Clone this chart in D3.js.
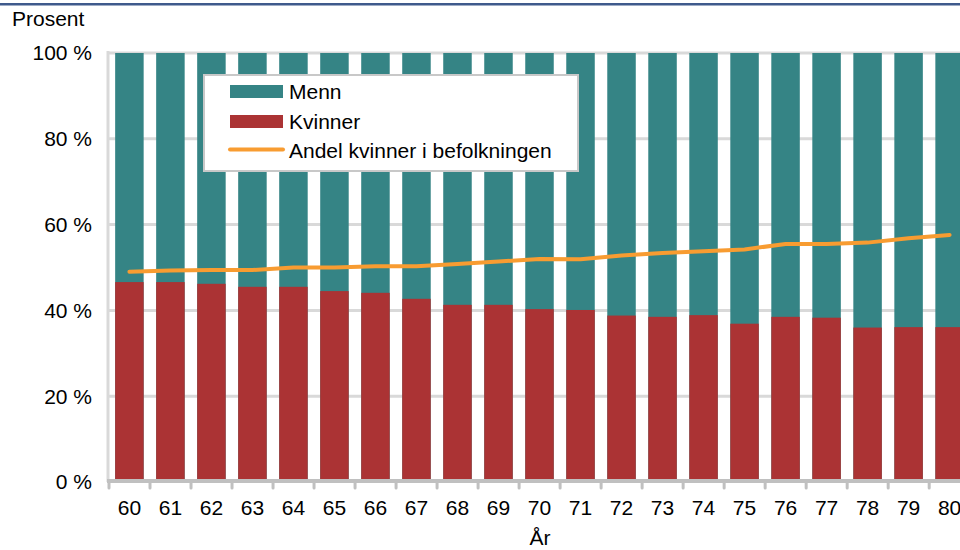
<html>
  <head>
    <style>
      body { margin: 0; background: #fff; }
      svg text { font-family: "Liberation Sans", Arial, sans-serif; fill: #000; }
    </style>
  </head>
  <body>
    <div id="chart"></div>
    <script src="https://d3js.org/d3.v7.min.js"></script>
    <script>
      // years (x categories)
      const years = ["60","61","62","63","64","65","66","67","68","69","70",
                     "71","72","73","74","75","76","77","78","79","80"];
      // share of women (%) - red part, men is the rest up to 100
      const kvinner = [46.6,46.6,46.2,45.5,45.5,44.5,44.1,42.7,41.3,41.3,40.3,
                       40.1,38.8,38.5,38.9,36.9,38.5,38.3,36.0,36.1,36.1];
      // share of women in the population (%)
      const andel = [49.0,49.3,49.4,49.4,50.0,50.0,50.3,50.3,50.8,51.4,52.0,
                     51.9,52.8,53.4,53.8,54.2,55.5,55.5,55.8,56.8,57.6];
      const yTicks = [0,20,40,60,80,100];

      const width = 960, height = 550;
      const teal = "#358485", red = "#ab3334", orange = "#f89c31";
      const fs = 21;

      const svg = d3.select("#chart").append("svg")
        .attr("width", width).attr("height", height);

      // top rule
      svg.append("rect").attr("x", 0).attr("y", 3).attr("width", width).attr("height", 2.5)
        .attr("fill", "#3f5a8c");

      const x = d3.scaleBand().domain(years).range([109, 109 + 41 * years.length]).paddingInner(0.305).paddingOuter(0.15);
      const y = d3.scaleLinear().domain([0, 100]).range([482, 53]);

      // gridlines
      svg.append("g").selectAll("line").data(yTicks.filter(d => d > 0)).enter()
        .append("line")
        .attr("x1", 108).attr("x2", width)
        .attr("y1", d => y(d)).attr("y2", d => y(d))
        .attr("stroke", "#d9d9d9").attr("stroke-width", 3);

      // y axis line
      svg.append("line").attr("x1", 108).attr("x2", 108).attr("y1", 51).attr("y2", 482)
        .attr("stroke", "#d9d9d9").attr("stroke-width", 3);

      // y labels
      svg.append("g").selectAll("text").data(yTicks).enter()
        .append("text")
        .attr("x", 92).attr("y", d => y(d)).attr("dy", "0.35em")
        .attr("text-anchor", "end").attr("font-size", fs)
        .text(d => d + " %");

      // bars: men (full) then women on top of it
      svg.append("g").selectAll("rect").data(years).enter()
        .append("rect")
        .attr("x", d => x(d)).attr("width", x.bandwidth())
        .attr("y", y(100)).attr("height", y(0) - y(100))
        .attr("fill", teal);

      svg.append("g").selectAll("rect").data(years).enter()
        .append("rect")
        .attr("x", d => x(d)).attr("width", x.bandwidth())
        .attr("y", (d, i) => y(kvinner[i])).attr("height", (d, i) => y(0) - y(kvinner[i]))
        .attr("fill", red);

      // x axis
      svg.append("line").attr("x1", 107).attr("x2", width).attr("y1", 481).attr("y2", 481)
        .attr("stroke", "#c0c0c0").attr("stroke-width", 4);
      const step = x.step();
      svg.append("g").selectAll("line").data(d3.range(years.length + 1)).enter()
        .append("line")
        .attr("x1", i => 109 + i * step).attr("x2", i => 109 + i * step)
        .attr("y1", 482).attr("y2", 488)
        .attr("stroke", "#c0c0c0").attr("stroke-width", 3).attr("stroke-linecap", "round");

      svg.append("g").selectAll("text").data(years).enter()
        .append("text")
        .attr("x", d => x(d) + x.bandwidth() / 2).attr("y", 508).attr("dy", "0.35em")
        .attr("text-anchor", "middle").attr("font-size", fs)
        .text(d => d);

      // line
      const line = d3.line()
        .x((d, i) => x(years[i]) + x.bandwidth() / 2)
        .y(d => y(d));
      svg.append("path").datum(andel)
        .attr("d", line).attr("fill", "none")
        .attr("stroke", orange).attr("stroke-width", 4)
        .attr("stroke-linecap", "round").attr("stroke-linejoin", "round");

      // axis titles
      svg.append("text").attr("x", 12).attr("y", 19).attr("dy", "0.35em")
        .attr("font-size", fs).text("Prosent");
      svg.append("text").attr("x", 540).attr("y", 538).attr("dy", "0.35em")
        .attr("text-anchor", "middle").attr("font-size", fs).text("År");

      // legend
      const lg = svg.append("g");
      lg.append("rect").attr("x", 204).attr("y", 75).attr("width", 374).attr("height", 96)
        .attr("fill", "#fff").attr("stroke", "#c8c8c8").attr("stroke-width", 2);
      lg.append("rect").attr("x", 230).attr("y", 85).attr("width", 53).attr("height", 13).attr("fill", teal);
      lg.append("rect").attr("x", 230).attr("y", 115).attr("width", 53).attr("height", 13).attr("fill", red);
      lg.append("line").attr("x1", 230).attr("x2", 283).attr("y1", 149.5).attr("y2", 149.5)
        .attr("stroke", orange).attr("stroke-width", 4).attr("stroke-linecap", "round");
      const lgText = ["Menn", "Kvinner", "Andel kvinner i befolkningen"];
      lg.selectAll("text.l").data(lgText).enter()
        .append("text").attr("class", "l")
        .attr("x", 289).attr("y", (d, i) => 92 + i * 29.5).attr("dy", "0.35em")
        .attr("font-size", fs).text(d => d);
    </script>
  </body>
</html>
